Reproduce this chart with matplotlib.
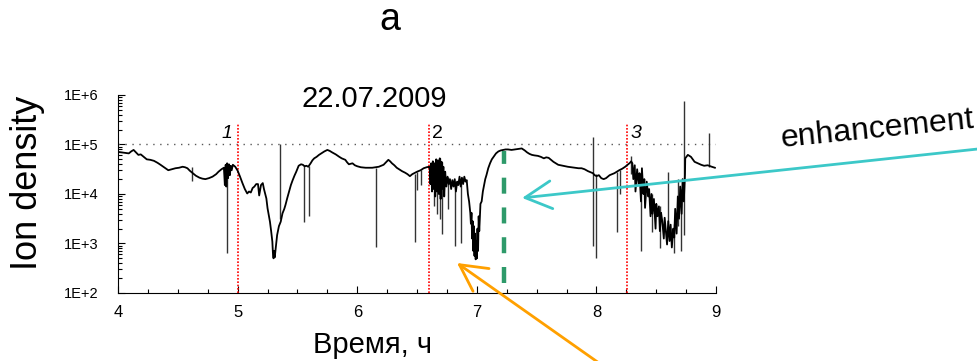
import numpy as np
import matplotlib
matplotlib.use("Agg")
import matplotlib.pyplot as plt
from matplotlib.ticker import MultipleLocator, LogLocator, FuncFormatter, NullFormatter

plt.rcParams['font.family'] = ['Liberation Sans', 'DejaVu Sans']

# ion density trace, time in hours, density as lg(cm^-3)
time_h = [
    4.00, 4.03, 4.06, 4.09, 4.11, 4.13, 4.15, 4.17, 4.19, 4.215, 4.24, 4.27, 4.30, 4.33, 4.355,
    4.39, 4.42, 4.45, 4.48, 4.51, 4.54, 4.56, 4.58, 4.60, 4.62, 4.65, 4.68, 4.705, 4.73, 4.76,
    4.79, 4.82, 4.84, 4.865, 4.885, 4.893, 4.90, 4.905, 4.912, 4.92, 4.927, 4.935, 4.942, 4.95,
    4.96, 4.98, 5.00, 5.02, 5.04, 5.06, 5.08, 5.095, 5.11, 5.125, 5.14, 5.155, 5.17, 5.18, 5.195,
    5.21, 5.22, 5.24, 5.25, 5.26, 5.27, 5.28, 5.29, 5.295, 5.30, 5.305, 5.31, 5.32, 5.33, 5.345,
    5.36, 5.375, 5.39, 5.40, 5.415, 5.43, 5.445, 5.46, 5.475, 5.49, 5.51, 5.53, 5.545, 5.56,
    5.575, 5.59, 5.61, 5.625, 5.64, 5.66, 5.68, 5.70, 5.725, 5.75, 5.77, 5.79, 5.82, 5.85, 5.87,
    5.90, 5.915, 5.93, 5.945, 5.96, 5.98, 6.00, 6.03, 6.07, 6.10, 6.125, 6.15, 6.18, 6.20, 6.22,
    6.24, 6.26, 6.275, 6.29, 6.31, 6.33, 6.355, 6.375, 6.40, 6.42, 6.44, 6.46, 6.50, 6.53, 6.555,
    6.58, 6.60, 6.605, 6.612, 6.618, 6.625, 6.632, 6.638, 6.645, 6.652, 6.66, 6.667, 6.675,
    6.682, 6.69, 6.697, 6.705, 6.712, 6.72, 6.727, 6.735, 6.745, 6.755, 6.765, 6.775, 6.785,
    6.795, 6.805, 6.815, 6.825, 6.835, 6.845, 6.855, 6.865, 6.875, 6.885, 6.895, 6.905, 6.915,
    6.925, 6.935, 6.945, 6.95, 6.955, 6.96, 6.965, 6.97, 6.975, 6.98, 6.985, 6.99, 6.995, 7.00,
    7.005, 7.01, 7.015, 7.02, 7.03, 7.04, 7.05, 7.06, 7.07, 7.08, 7.095, 7.11, 7.125, 7.14, 7.16,
    7.18, 7.20, 7.22, 7.24, 7.26, 7.29, 7.32, 7.35, 7.375, 7.40, 7.42, 7.44, 7.46, 7.48, 7.51,
    7.535, 7.56, 7.58, 7.60, 7.62, 7.64, 7.66, 7.68, 7.70, 7.72, 7.74, 7.76, 7.79, 7.82, 7.85,
    7.875, 7.90, 7.93, 7.95, 7.97, 7.985, 8.00, 8.02, 8.04, 8.06, 8.08, 8.11, 8.13, 8.15, 8.17,
    8.19, 8.215, 8.24, 8.26, 8.28, 8.29, 8.30, 8.308, 8.32, 8.326, 8.34, 8.352, 8.36, 8.372, 8.38,
    8.392, 8.40, 8.406, 8.42, 8.433, 8.44, 8.452, 8.46, 8.468, 8.48, 8.494, 8.50, 8.51, 8.522, 8.53,
    8.54, 8.55, 8.563, 8.57, 8.58, 8.59, 8.60, 8.611, 8.62, 8.63, 8.642, 8.65, 8.658, 8.67, 8.68,
    8.69, 8.70, 8.712, 8.72, 8.73, 8.74, 8.742, 8.764, 8.79, 8.82, 8.847, 8.875, 8.90, 8.93,
    8.964, 8.99,
]
lg_density = [
    4.85, 4.84, 4.83, 4.82, 4.86, 4.89, 4.84, 4.79, 4.80, 4.75, 4.70, 4.69, 4.67, 4.63, 4.59,
    4.53, 4.48, 4.50, 4.52, 4.53, 4.55, 4.54, 4.52, 4.47, 4.43, 4.37, 4.33, 4.31, 4.30, 4.32,
    4.35, 4.40, 4.45, 4.50, 4.53, 4.18, 4.59, 4.15, 4.62, 4.32, 4.60, 4.38, 4.57, 4.48,
    4.59, 4.55, 4.47, 4.35, 4.22, 4.10, 4.01, 4.05, 4.03, 4.12, 4.15, 4.20, 4.20, 3.97, 4.18,
    4.22, 4.10, 3.91, 3.71, 3.58, 3.44, 3.25, 3.04, 2.80, 2.70, 2.85, 2.72, 2.95, 3.17, 3.35,
    3.44, 3.61, 3.70, 3.78, 3.92, 4.05, 4.18, 4.28, 4.37, 4.45, 4.57, 4.60, 4.59, 4.56,
    4.57, 4.55, 4.62, 4.68, 4.72, 4.75, 4.79, 4.82, 4.86, 4.89, 4.87, 4.84, 4.80, 4.75, 4.72,
    4.69, 4.64, 4.60, 4.61, 4.62, 4.58, 4.56, 4.54, 4.53, 4.53, 4.53, 4.54, 4.55, 4.57, 4.59,
    4.64, 4.69, 4.66, 4.62, 4.58, 4.53, 4.49, 4.46, 4.43, 4.40, 4.36, 4.40, 4.45, 4.48, 4.52,
    4.54, 4.55, 4.55, 4.20, 4.62, 4.05, 4.66, 4.10, 4.62, 3.95, 4.70, 4.05, 4.68,
    4.00, 4.72, 3.90, 4.65, 4.10, 4.55, 3.95, 4.45, 4.15, 4.35, 4.20, 4.30, 4.10,
    4.28, 4.15, 4.30, 4.05, 4.25, 4.18, 4.35, 4.15, 4.33, 4.20, 4.35, 4.25, 4.28,
    4.00, 3.85, 3.62, 3.40, 3.62, 3.10, 3.45, 2.85, 3.35, 2.75, 3.20, 2.68, 3.05, 2.70,
    3.30, 2.85, 3.55, 3.25, 3.80, 3.85, 4.05, 4.18, 4.30, 4.38, 4.52, 4.62, 4.70, 4.75, 4.82,
    4.86, 4.88, 4.89, 4.90, 4.90, 4.89, 4.90, 4.91, 4.92, 4.88, 4.84, 4.81, 4.79, 4.78, 4.77,
    4.75, 4.72, 4.74, 4.73, 4.69, 4.65, 4.62, 4.59, 4.58, 4.57, 4.56, 4.55, 4.54, 4.53, 4.52,
    4.52, 4.50, 4.46, 4.44, 4.42, 4.38, 4.36, 4.38, 4.32, 4.30, 4.32, 4.38, 4.40, 4.42, 4.45,
    4.48, 4.51, 4.55, 4.59, 4.63, 4.66, 4.62, 4.30, 4.58, 4.05, 4.50, 4.20, 4.42, 3.85, 4.52,
    4.00, 4.30, 3.72, 4.25, 3.95, 4.10, 3.55, 4.00, 3.60, 3.90, 3.30, 3.80, 3.55, 3.75, 3.25,
    3.62, 3.45, 3.10, 3.52, 3.25, 2.98, 3.45, 3.05, 3.38, 2.92, 3.30, 3.12, 3.70, 3.20, 3.95,
    3.50, 4.15, 3.60, 4.30, 3.85, 4.40, 4.72, 4.79, 4.75, 4.65, 4.62, 4.59, 4.57, 4.58,
    4.55, 4.53,
]

# single-sample spikes: time, lower and upper lg value
spike_t = [4.62, 4.91, 5.35, 5.555, 5.60, 6.16, 6.48, 6.50, 6.53, 6.64, 6.67, 6.69, 6.71,
           6.76, 6.82, 6.87, 7.97, 8.00, 8.175, 8.20, 8.29, 8.375, 8.46, 8.53, 8.60, 8.645,
           8.68, 8.71, 8.735, 8.944]
spike_lo = [4.27, 2.80, 3.50, 3.43, 3.56, 2.92, 3.04, 4.08, 4.18, 3.75, 3.60, 3.50, 3.20,
            3.70, 2.95, 3.00, 2.95, 2.70, 3.24, 4.00, 4.40, 2.84, 3.24, 2.90, 3.40, 2.80,
            3.35, 2.85, 3.17, 4.55]
spike_hi = [4.55, 4.55, 5.00, 4.59, 4.57, 4.53, 4.40, 4.45, 4.48, 4.62, 4.68, 4.72, 4.65,
            4.35, 4.25, 4.33, 5.16, 4.40, 4.45, 4.48, 4.77, 4.40, 4.00, 3.75, 4.45, 3.40,
            4.30, 4.10, 5.87, 5.23]

# marked moments
event_t = [5.0, 6.597, 8.255]
event_labels = ["1", "2", "3"]
enh_t = 7.23

dens = 10 ** np.array(lg_density)

fig = plt.figure(figsize=(9.78, 3.61), dpi=100)
ax = fig.add_axes([0.1207, 0.1884, 0.6115, 0.5485])

ax.axhline(1e5, color='0.35', lw=1.0, ls=(0, (1, 4)))
ax.vlines(event_t, 1e2, 10 ** 5.43, colors='red', lw=1.2, linestyles=(0, (1, 1)))
ax.vlines(spike_t, 10 ** np.array(spike_lo), 10 ** np.array(spike_hi), colors='0.2', lw=1.0)
ax.plot(time_h, dens, color='black', lw=1.3)
ax.plot([enh_t, enh_t], [10 ** 2.2, 10 ** 4.87], color='#2e9a6a', lw=3.2,
        dashes=(3.6, 3.1), solid_capstyle='butt', dash_capstyle='butt')

for t, lab in zip(event_t, event_labels):
    if lab == "1":
        ax.text(t - 0.04, 10 ** 5.13, lab, ha='right', va='baseline', fontsize=14, style='italic')
    else:
        ax.text(t + 0.03, 10 ** 5.13, lab, ha='left', va='baseline', fontsize=14,
                style='italic' if lab == "3" else 'normal')

ax.set_yscale('log')
ax.set_xlim(4, 9)
ax.set_ylim(1e2, 1e6)
ax.xaxis.set_major_locator(MultipleLocator(1))
ax.xaxis.set_minor_locator(MultipleLocator(0.25))
ax.yaxis.set_major_locator(LogLocator(base=10, numticks=10))
ax.yaxis.set_minor_locator(LogLocator(base=10, subs=np.arange(2, 10), numticks=10))
ax.yaxis.set_minor_formatter(NullFormatter())
ax.yaxis.set_major_formatter(FuncFormatter(lambda v, p: "1E+%d" % round(np.log10(v))))
for s in ['top', 'right']:
    ax.spines[s].set_visible(False)
ax.tick_params(which='both', direction='in', width=0.8)
ax.tick_params(which='major', length=5)
ax.tick_params(which='minor', length=3)
ax.tick_params(axis='x', labelsize=12, pad=9)
ax.tick_params(axis='y', labelsize=10.5, pad=14)

fig.text(0.399, 0.917, "a", ha='center', va='baseline', fontsize=27)
fig.text(0.3825, 0.7036, "22.07.2009", ha='center', va='baseline', fontsize=21)
fig.text(0.028, 0.493, "Ion density", rotation=90, ha='center', va='center', fontsize=26)
fig.text(0.381, 0.022, "Время, ч", ha='center', va='baseline', fontsize=21)
fig.text(0.7996, 0.593, "enhancement", rotation=5.7, rotation_mode='anchor',
         ha='left', va='baseline', fontsize=23)

ax.annotate("", xy=(7.378, 10 ** 3.92), xycoords='data',
            xytext=(1.0, 0.5873), textcoords='figure fraction', annotation_clip=False,
            arrowprops=dict(arrowstyle='->,head_length=0.95,head_width=0.5', color='#3cc8c8',
                            lw=2.0, mutation_scale=20, shrinkA=0, shrinkB=0))
ax.annotate("", xy=(6.834, 10 ** 2.606), xycoords='data',
            xytext=(0.62, -0.02), textcoords='figure fraction', annotation_clip=False,
            arrowprops=dict(arrowstyle='->,head_length=0.95,head_width=0.5', color='#ffa000',
                            lw=2.0, mutation_scale=20, shrinkA=0, shrinkB=0))

fig.savefig("out.png", dpi=100)
